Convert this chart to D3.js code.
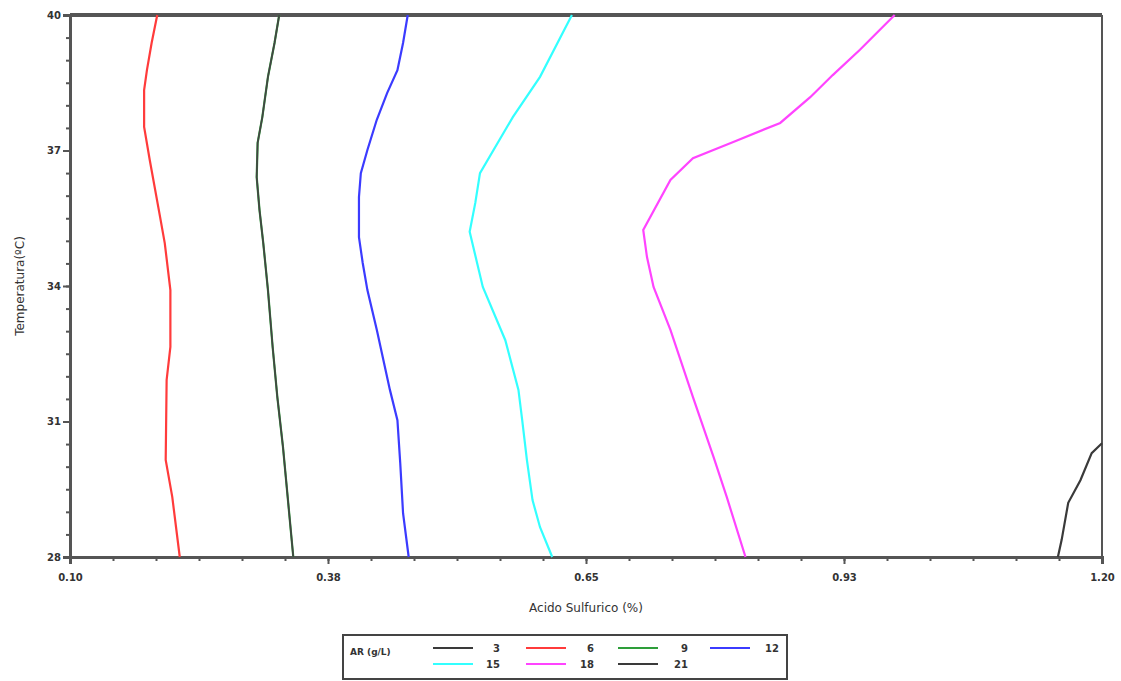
<!DOCTYPE html>
<html>
<head>
<meta charset="utf-8">
<script src="https://cdn.jsdelivr.net/npm/d3@7"></script>
<style>
    body { margin: 0; background: #fff; }
    text { font-family: "DejaVu Sans", Verdana, sans-serif; fill: #333; }
</style>
</head>
<body>
<div id="chart"></div>
<script>
// contour levels of AR (g/L) and their colours
const levels = [3, 6, 9, 12, 15, 18, 21];
const levelColors = ["#3a3a3a", "#ff3b3b", "#2e9e3a", "#3b3bff", "#33ffff", "#ff44ff", "#3a3a3a"];

// axis ticks
const xTickValues = [0.10, 0.375, 0.65, 0.925, 1.20];
const xTickLabels = ["0.10", "0.38", "0.65", "0.93", "1.20"];
const yTickValues = [28, 31, 34, 37, 40];

// contour lines, [acid %, temperature]
const line6 = [[0.193, 40], [0.187, 39.38], [0.182, 38.78], [0.179, 38.34], [0.179, 37.52], [0.185, 36.79],
    [0.196, 35.53], [0.201, 34.95], [0.207, 33.91], [0.207, 32.65], [0.203, 31.92], [0.202, 30.15],
    [0.209, 29.33], [0.217, 28]];
const line9 = [[0.323, 40], [0.318, 39.38], [0.311, 38.63], [0.305, 37.74], [0.300, 37.17], [0.299, 36.41],
    [0.302, 35.68], [0.306, 34.95], [0.311, 33.91], [0.316, 32.65], [0.321, 31.54], [0.327, 30.44],
    [0.332, 29.33], [0.338, 28]];
const line12 = [[0.460, 40], [0.455, 39.38], [0.449, 38.78], [0.438, 38.27], [0.427, 37.68], [0.417, 37.01],
    [0.410, 36.50], [0.408, 35.97], [0.408, 35.08], [0.412, 34.51], [0.417, 33.91], [0.427, 33.03],
    [0.441, 31.70], [0.449, 31.03], [0.452, 30.08], [0.455, 28.97], [0.461, 28]];
const line15 = [[0.635, 40], [0.601, 38.63], [0.572, 37.74], [0.537, 36.50], [0.532, 35.84], [0.526, 35.20],
    [0.540, 33.98], [0.564, 32.80], [0.578, 31.70], [0.582, 31.03], [0.587, 30.15], [0.593, 29.26],
    [0.601, 28.66], [0.614, 28]];
const line18 = [[0.979, 40], [0.942, 39.23], [0.913, 38.67], [0.889, 38.18], [0.857, 37.61], [0.807, 37.19],
    [0.764, 36.83], [0.740, 36.35], [0.711, 35.24], [0.715, 34.64], [0.722, 33.98], [0.740, 33.03],
    [0.764, 31.54], [0.786, 30.21], [0.800, 29.33], [0.820, 28]];
const line21 = [[1.153, 28], [1.157, 28.38], [1.164, 29.20], [1.177, 29.70], [1.189, 30.30], [1.198, 30.48],
    [1.20, 30.52]];

const contours = [
    {level: 6, points: line6},
    {level: 9, points: line9},
    {level: 12, points: line12},
    {level: 15, points: line15},
    {level: 18, points: line18},
    {level: 21, points: line21}
];

const width = 1121, height = 681;
const margin = {top: 15, right: 19, bottom: 124, left: 70};
const innerW = width - margin.left - margin.right;
const innerH = height - margin.top - margin.bottom;
const axisColor = "#555";

const svg = d3.select("#chart").append("svg")
    .attr("width", width)
    .attr("height", height);

const g = svg.append("g")
    .attr("transform", "translate(" + margin.left + "," + margin.top + ")");

const x = d3.scaleLinear().domain([0.10, 1.20]).range([0, innerW]);
const y = d3.scaleLinear().domain([28, 40]).range([innerH, 0]);

const color = d3.scaleOrdinal().domain(levels).range(levelColors);

// minor ticks, 6 per major interval
const xMinor = d3.range(0, 25).map(i => 0.10 + i * 1.10 / 24);
const yMinor = d3.range(0, 25).map(i => 28 + i * 0.5);

// x axis
const xAxisMinor = g.append("g")
    .attr("transform", "translate(0," + innerH + ")")
    .call(d3.axisBottom(x).tickValues(xMinor).tickSize(4).tickFormat(""));
const xAxis = g.append("g")
    .attr("transform", "translate(0," + innerH + ")")
    .call(d3.axisBottom(x).tickValues(xTickValues).tickSize(7)
        .tickFormat((d, i) => xTickLabels[i]).tickPadding(10));

// y axis
const yAxisMinor = g.append("g")
    .call(d3.axisLeft(y).tickValues(yMinor).tickSize(4).tickFormat(""));
const yAxis = g.append("g")
    .call(d3.axisLeft(y).tickValues(yTickValues).tickSize(7).tickFormat(d3.format("d")).tickPadding(2));

[xAxisMinor, xAxis, yAxisMinor, yAxis].forEach(a => {
    a.selectAll("path").attr("stroke", axisColor).attr("stroke-width", 3);
    a.selectAll("line").attr("stroke", axisColor).attr("stroke-width", 2);
    a.selectAll("text").style("font-size", "10px").style("font-weight", "bold").attr("fill", "#333");
});

// top and right frame
g.append("line")
    .attr("x1", 0).attr("x2", innerW).attr("y1", 0).attr("y2", 0)
    .attr("stroke", axisColor).attr("stroke-width", 4);
g.append("line")
    .attr("x1", innerW).attr("x2", innerW).attr("y1", 0).attr("y2", innerH)
    .attr("stroke", axisColor).attr("stroke-width", 2);

// contour lines
const lineGen = d3.line()
    .x(d => x(d[0]))
    .y(d => y(d[1]));

contours.forEach(c => {
    g.append("path")
        .datum(c.points)
        .attr("fill", "none")
        .attr("stroke", color(c.level))
        .attr("stroke-width", 2.2)
        .attr("d", lineGen);
    // the 9 contour shows as a dark line with a green trace
    if (c.level === 9) {
        g.append("path")
            .datum(c.points)
            .attr("fill", "none")
            .attr("stroke", "#444")
            .attr("stroke-width", 1.7)
            .attr("d", lineGen);
    }
});

// axis titles
svg.append("text")
    .attr("x", margin.left + x(0.65))
    .attr("y", 612)
    .attr("text-anchor", "middle")
    .style("font-size", "12px")
    .text("Acido Sulfurico (%)");

svg.append("text")
    .attr("transform", "translate(24," + (margin.top + innerH / 2) + ") rotate(-90)")
    .attr("text-anchor", "middle")
    .style("font-size", "12px")
    .text("Temperatura(ºC)");

// legend
const legend = svg.append("g");
legend.append("rect")
    .attr("x", 343).attr("y", 635)
    .attr("width", 444).attr("height", 44)
    .attr("fill", "#fff")
    .attr("stroke", "#444")
    .attr("stroke-width", 2);

legend.append("text")
    .attr("x", 350).attr("y", 655)
    .style("font-size", "9px")
    .style("font-weight", "bold")
    .text("AR (g/L)");

const colX = [433, 526, 618, 710];
const colLabelX = [500, 594, 688, 779];
levels.forEach((lv, i) => {
    const col = i % 4, row = Math.floor(i / 4);
    const ly = 648 + row * 16;
    legend.append("line")
        .attr("x1", colX[col]).attr("x2", colX[col] + 40)
        .attr("y1", ly).attr("y2", ly)
        .attr("stroke", color(lv))
        .attr("stroke-width", 2);
    legend.append("text")
        .attr("x", colLabelX[col]).attr("y", ly + 4)
        .attr("text-anchor", "end")
        .style("font-size", "10px")
        .style("font-weight", "bold")
        .text(lv);
});
</script>
</body>
</html>
